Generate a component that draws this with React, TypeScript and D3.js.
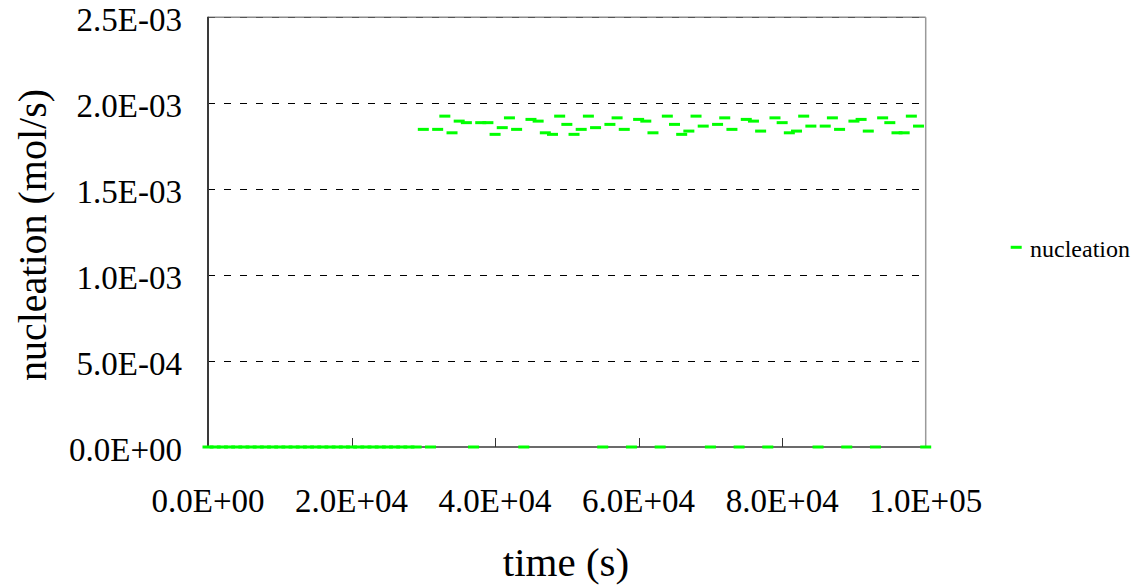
import React from "react";
import * as d3 from "d3";

// Sampling times (s)
const times: number[] = [
  0, 1000, 2000, 3000, 4000, 5000, 6000, 7000, 8000, 9000,
  10000, 11000, 12000, 13000, 14000, 15000, 16000, 17000, 18000, 19000,
  20000, 21000, 22000, 23000, 24000, 25000, 26000, 27000, 28000, 29000,
  30000, 31000, 32000, 33000, 34000, 35000, 36000, 37000, 38000, 39000,
  40000, 41000, 42000, 43000, 44000, 45000, 46000, 47000, 48000, 49000,
  50000, 51000, 52000, 53000, 54000, 55000, 56000, 57000, 58000, 59000,
  60000, 61000, 62000, 63000, 64000, 65000, 66000, 67000, 68000, 69000,
  70000, 71000, 72000, 73000, 74000, 75000, 76000, 77000, 78000, 79000,
  80000, 81000, 82000, 83000, 84000, 85000, 86000, 87000, 88000, 89000,
  90000, 91000, 92000, 93000, 94000, 95000, 96000, 97000, 98000, 99000,
  100000,
];

// Nucleation rate (mol/s) at each sampling time
const nucleation: number[] = [
  0, 0, 0, 0, 0, 0, 0, 0, 0, 0,
  0, 0, 0, 0, 0, 0, 0, 0, 0, 0,
  0, 0, 0, 0, 0, 0, 0, 0, 0, 0,
  1.848e-3, 0, 1.848e-3, 1.925e-3, 1.828e-3, 1.896e-3, 1.887e-3, 0, 1.887e-3, 1.887e-3,
  1.819e-3, 1.858e-3, 1.915e-3, 1.848e-3, 0, 1.906e-3, 1.896e-3, 1.828e-3, 1.819e-3, 1.925e-3,
  1.877e-3, 1.819e-3, 1.848e-3, 1.925e-3, 1.858e-3, 0, 1.877e-3, 1.915e-3, 1.848e-3, 0,
  1.906e-3, 1.896e-3, 1.828e-3, 0, 1.925e-3, 1.877e-3, 1.819e-3, 1.838e-3, 1.925e-3, 1.867e-3,
  0, 1.877e-3, 1.915e-3, 1.848e-3, 0, 1.906e-3, 1.896e-3, 1.838e-3, 0, 1.915e-3,
  1.887e-3, 1.828e-3, 1.838e-3, 1.925e-3, 1.867e-3, 0, 1.867e-3, 1.915e-3, 1.848e-3, 0,
  1.896e-3, 1.906e-3, 1.838e-3, 0, 1.915e-3, 1.887e-3, 1.828e-3, 1.828e-3, 1.925e-3, 1.867e-3,
  0,
];

const xTicks: number[] = [0, 20000, 40000, 60000, 80000, 100000];
const xTickLabels: string[] = ["0.0E+00", "2.0E+04", "4.0E+04", "6.0E+04", "8.0E+04", "1.0E+05"];
const yTicks: number[] = [0, 5e-4, 1e-3, 1.5e-3, 2e-3, 2.5e-3];
const yTickLabels: string[] = ["0.0E+00", "5.0E-04", "1.0E-03", "1.5E-03", "2.0E-03", "2.5E-03"];

const seriesName = "nucleation";
const xTitle = "time (s)";
const yTitle = "nucleation (mol/s)";

const W = 1142;
const H = 588;
const left = 208;
const right = 925.7;
const top = 17.3;
const bottom = 447;
const font = "'Liberation Serif', 'Times New Roman', serif";
const green = "#00ff00";

export default function App() {
  const x = d3.scaleLinear().domain([0, 100000]).range([left, right]);
  const y = d3.scaleLinear().domain([0, 2.5e-3]).range([bottom, top]);

  const markW = 11;
  const markH = 3;

  return (
    <svg
      width={W}
      height={H}
      style={{ position: "absolute", left: 0, top: 0, background: "#fff" }}
      fontFamily={font}
    >
      <rect x={0} y={0} width={W} height={H} fill="#fff" />

      {/* plot frame: grey top and right edges */}
      <line x1={left} x2={right} y1={top} y2={top} stroke="#8c8c8c" strokeWidth={1.5} />
      <line x1={right} x2={right} y1={top} y2={bottom} stroke="#9a9a9a" strokeWidth={1.5} />

      {/* horizontal dashed gridlines */}
      {yTicks
        .filter((v) => v > 0)
        .map((v) => (
          <line
            key={"g" + v}
            x1={left}
            x2={right}
            y1={Math.round(y(v)) + 0.5}
            y2={Math.round(y(v)) + 0.5}
            stroke={v === 2.5e-3 ? "#555" : "#000"}
            strokeWidth={1}
            strokeDasharray="7,9"
            shapeRendering="crispEdges"
          />
        ))}

      {/* axes */}
      <line x1={left} x2={left} y1={top - 0.5} y2={bottom} stroke="#3a3a3a" strokeWidth={2} />
      <line x1={left} x2={right} y1={bottom} y2={bottom} stroke="#3a3a3a" strokeWidth={1.5} />
      {xTicks.slice(1, -1).map((t) => (
        <line
          key={"xt" + t}
          x1={Math.round(x(t)) + 0.5}
          x2={Math.round(x(t)) + 0.5}
          y1={bottom}
          y2={bottom - 9}
          stroke="#333"
          strokeWidth={1}
          shapeRendering="crispEdges"
        />
      ))}

      {/* data markers (short horizontal dashes) */}
      {times.map((t, i) => (
        <rect
          key={"m" + i}
          x={x(t) - markW / 2}
          y={y(nucleation[i]) - markH / 2}
          width={markW}
          height={markH}
          fill={green}
        />
      ))}

      {/* tick labels */}
      {yTicks.map((v, i) => (
        <text key={"yl" + v} x={182} y={y(v) + 13.5} fontSize={33} textAnchor="end" fill="#000">
          {yTickLabels[i]}
        </text>
      ))}
      {xTicks.map((t, i) => (
        <text key={"xl" + t} x={x(t)} y={511.5} fontSize={33} textAnchor="middle" fill="#000">
          {xTickLabels[i]}
        </text>
      ))}

      {/* axis titles */}
      <text x={566} y={576} fontSize={41} textAnchor="middle" fill="#000">
        {xTitle}
      </text>
      <text
        transform={`translate(46, 235) rotate(-90)`}
        fontSize={40}
        textAnchor="middle"
        fill="#000"
      >
        {yTitle}
      </text>

      {/* legend */}
      <rect x={1010.7} y={247.3 - markH / 2} width={markW} height={markH} fill={green} />
      <text x={1030} y={257} fontSize={24} fill="#000">
        {seriesName}
      </text>
    </svg>
  );
}
